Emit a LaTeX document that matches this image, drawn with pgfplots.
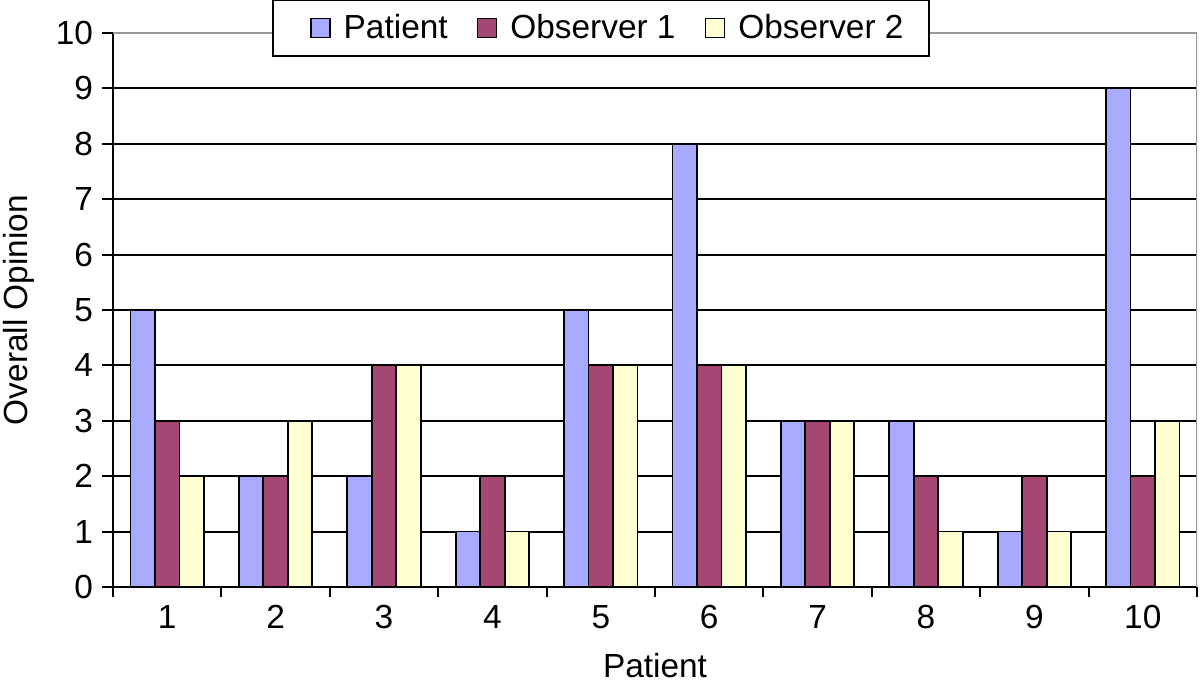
\documentclass[border=0pt]{standalone}
\usepackage{fontspec}
\setmainfont{Liberation Sans}
\usepackage{pgfplots}
\pgfplotsset{compat=1.18}
\definecolor{cpat}{RGB}{168,170,253}
\definecolor{cob1}{RGB}{164,72,115}
\definecolor{cob2}{RGB}{255,255,210}
\newcommand{\cf}{\fontsize{16.7bp}{19bp}\selectfont}
\begin{document}
\begin{tikzpicture}
\path[use as bounding box] (0,0) rectangle (600bp,344bp);
\begin{axis}[
  at={(56.5bp,50.5bp)}, anchor=south west,
  scale only axis, width=542bp, height=277bp,
  xmin=0.5, xmax=10.5, ymin=0, ymax=10,
  axis x line*=bottom, axis y line*=left,
  axis line style={black, line width=1bp},
  xtick={1,2,3,4,5,6,7,8,9,10},
  ytick={0,1,2,3,4,5,6,7,8,9,10},
  minor xtick={0.5,1.5,2.5,3.5,4.5,5.5,6.5,7.5,8.5,9.5,10.5},
  major x tick style={draw=none},
  tick align=outside,
  major tick length=5.5bp, minor tick length=5bp,
  tick style={black, line width=1bp},
  ymajorgrids, major grid style={black, line width=1bp},
  /pgf/number format/assume math mode=true,
  tick label style={font=\cf},
  yticklabel style={xshift=-1bp},
  xlabel={Patient}, ylabel={Overall Opinion},
  every axis x label/.style={at={(axis description cs:0.5,-0.141)}, anchor=center, font=\cf},
  every axis y label/.style={at={(axis description cs:-0.0867,0.5)}, anchor=center, rotate=90, font=\cf},
  ybar, bar width=0.226,
  legend image code/.code={\path (0bp,0bp); \draw[#1,draw=black,line width=0.8bp] (6bp,-4.75bp) rectangle (15.5bp,4.75bp);},
  legend columns=3,
  legend style={at={(axis description cs:0.1467,1.009)}, anchor=west, draw=black, line width=1bp, fill=white, font=\cf,
    inner xsep=12.5bp, inner ysep=7bp,
    nodes={inner sep=0pt},
    /tikz/every odd column/.append style={column sep=6.5bp},
    /tikz/every even column/.append style={column sep=8.5bp}},
]
\addplot[fill=cpat, draw=black, line width=0.9bp, bar shift=-0.226] coordinates {(1,5) (2,2) (3,2) (4,1) (5,5) (6,8) (7,3) (8,3) (9,1) (10,9)};
\addplot[fill=cob1, draw=black, line width=0.9bp, bar shift=0] coordinates {(1,3) (2,2) (3,4) (4,2) (5,4) (6,4) (7,3) (8,2) (9,2) (10,2)};
\addplot[fill=cob2, draw=black, line width=0.9bp, bar shift=0.226] coordinates {(1,2) (2,3) (3,4) (4,1) (5,4) (6,4) (7,3) (8,1) (9,1) (10,3)};
\legend{Patient, Observer 1, Observer 2}
\draw[gray!80, line width=1bp] (rel axis cs:0,1) -- (rel axis cs:1,1) -- (rel axis cs:1,0);
\end{axis}
\end{tikzpicture}
\end{document}
